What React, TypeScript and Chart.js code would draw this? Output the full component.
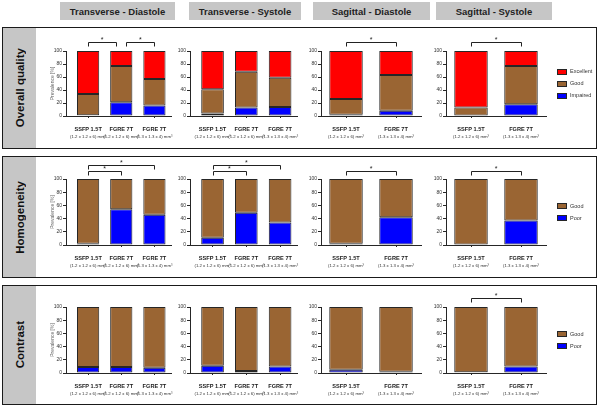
import React, { useEffect, useRef } from "react";
import { Chart, registerables } from "chart.js";

Chart.register(...registerables);

// ---------------- data ----------------
const COLUMN_TITLES = ["Transverse - Diastole", "Transverse - Systole", "Sagittal - Diastole", "Sagittal - Systole"];
const ROW_TITLES = ["Overall quality", "Homogeneity", "Contrast"];

const TRANSVERSE_NAMES = ["SSFP 1.5T", "FGRE 7T", "FGRE 7T"];
const TRANSVERSE_SUBS = ["(1.2 x 1.2 x 6) mm³", "(1.2 x 1.2 x 6) mm³", "(1.3 x 1.3 x 4) mm³"];
const SAGITTAL_NAMES = ["SSFP 1.5T", "FGRE 7T"];
const SAGITTAL_SUBS = ["(1.2 x 1.2 x 6) mm³", "(1.3 x 1.3 x 4) mm³"];

const Y_TICKS = [0, 20, 40, 60, 80, 100];
const Y_TITLE = "Prevalence [%]";

// Overall quality (per column: TD, TS, SD, SS)
const QUALITY_IMPAIRED = [[1, 21, 16], [4, 13, 14], [2, 8], [0, 18]];
const QUALITY_GOOD = [[33, 56, 41], [37, 55, 45], [24, 55], [13, 59]];
const QUALITY_EXCELLENT = [[66, 23, 43], [59, 32, 41], [74, 37], [87, 23]];
// significance brackets: [from, to, level]
const QUALITY_SIG = [[[0, 1, 0], [1, 2, 0]], [], [[0, 1, 0]], [[0, 1, 0]]];

// Homogeneity
const HOMOGENEITY_POOR = [[2, 54, 46], [11, 49, 34], [2, 42], [0, 37]];
const HOMOGENEITY_GOOD = [[98, 46, 54], [89, 51, 66], [98, 58], [100, 63]];
const HOMOGENEITY_SIG = [[[0, 1, 0], [0, 2, 1]], [[0, 1, 0], [0, 2, 1]], [[0, 1, 0]], [[0, 1, 0]]];

// Contrast
const CONTRAST_POOR = [[9, 9, 8], [11, 3, 10], [5, 2], [1, 10]];
const CONTRAST_GOOD = [[91, 91, 92], [89, 97, 90], [95, 98], [99, 90]];
const CONTRAST_SIG = [[], [], [], [[0, 1, 0]]];

// ---------------- style ----------------
const FONT = "'Liberation Sans', Arial, sans-serif";
const NARROW = "'Liberation Sans Narrow', 'Liberation Sans', Arial, sans-serif";
const RED = "#ff0000";
const BROWN = "#9a6533";
const BLUE = "#0000ff";
const EDGE = "#262626";
const GRAY_BOX = "#c6c6c6";

type Series = { label: string; color: string; values: number[] };

const ROW_GEOM = [
  { boxTop: 27, boxBottom: 149, plotTop: 51, plotBottom: 116, bracket: [9, 15] },
  { boxTop: 156, boxBottom: 278, plotTop: 179, plotBottom: 245, bracket: [8, 14] },
  { boxTop: 285, boxBottom: 405, plotTop: 307, plotBottom: 373, bracket: [9, 15] },
];
const COL_GEOM = [
  { left: 66, right: 171 },
  { left: 190, right: 297 },
  { left: 321, right: 421 },
  { left: 446, right: 546 },
];
const HEADER_GEOM = [
  { left: 60, width: 115 },
  { left: 189, width: 112 },
  { left: 313, width: 117 },
  { left: 436, width: 116 },
];

const Y_W = 20;
const TOP_PAD = 30;
const X_H = 26;

type PanelProps = {
  col: number;
  row: number;
  names: string[];
  subs: string[];
  series: Series[];
  sig: number[][];
  showTitle: boolean;
  showLegend: boolean;
};

function Panel(p: PanelProps) {
  const ref = useRef<HTMLCanvasElement>(null);
  const cg = COL_GEOM[p.col];
  const rg = ROW_GEOM[p.row];
  const rightPad = p.showLegend ? 50 : 14;
  const w = Math.round(cg.right - cg.left + Y_W + rightPad);
  const h = Math.round(rg.plotBottom - rg.plotTop + TOP_PAD + X_H);
  const left = cg.left - Y_W;
  const top = rg.plotTop - TOP_PAD;

  useEffect(() => {
    const canvas = ref.current!;
    const n = p.names.length;
    const xMin = n === 3 ? -0.667 : -0.5;
    const xMax = n === 3 ? 2.5 : 1.5;

    const extras = {
      id: "extras",
      afterDraw(chart: any) {
        const ctx = chart.ctx as CanvasRenderingContext2D;
        const xs = chart.scales.x;
        const area = chart.chartArea;
        ctx.save();
        // sub labels
        ctx.fillStyle = "#333";
        ctx.font = `4.3px ${FONT}`;
        ctx.textAlign = "center";
        ctx.textBaseline = "middle";
        p.subs.forEach((s, i) => {
          ctx.fillText(s, xs.getPixelForValue(i), area.bottom + 20.5);
        });
        // significance brackets
        ctx.strokeStyle = "#222";
        ctx.lineWidth = 1;
        ctx.fillStyle = "#222";
        ctx.font = `7px ${FONT}`;
        ctx.textBaseline = "alphabetic";
        p.sig.forEach(([a, b, lvl]) => {
          let x1 = xs.getPixelForValue(a);
          let x2 = xs.getPixelForValue(b);
          p.sig.forEach(([c, d, l2]) => {
            if (l2 === lvl && !(c === a && d === b)) {
              if (d === a) x1 += 5;
              if (c === b) x2 -= 5;
            }
          });
          const y = Math.round(area.top - rg.bracket[lvl]) + 0.5;
          ctx.beginPath();
          ctx.moveTo(Math.round(x1) + 0.5, y + 4);
          ctx.lineTo(Math.round(x1) + 0.5, y);
          ctx.lineTo(Math.round(x2) + 0.5, y);
          ctx.lineTo(Math.round(x2) + 0.5, y + 4);
          ctx.stroke();
          ctx.fillText("*", (x1 + x2) / 2, y - 0.5);
        });
        // legend
        if (p.showLegend) {
          const entries = [...p.series].reverse();
          const yc = (area.top + area.bottom) / 2;
          const gap = 12;
          const x0 = Math.round(area.right + 11);
          ctx.font = `5.5px ${FONT}`;
          ctx.textAlign = "left";
          ctx.textBaseline = "middle";
          entries.forEach((s, i) => {
            const y = yc + (i - (entries.length - 1) / 2) * gap;
            ctx.fillStyle = s.color;
            ctx.fillRect(x0, Math.round(y - 3), 10, 6);
            ctx.strokeStyle = EDGE;
            ctx.strokeRect(x0 + 0.5, Math.round(y - 3) + 0.5, 9, 5);
            ctx.fillStyle = "#333";
            ctx.fillText(s.label, x0 + 13, y);
          });
        }
        ctx.restore();
      },
    };

    const chart = new Chart(canvas, {
      type: "bar",
      data: {
        datasets: p.series.map((s) => ({
          label: s.label,
          data: s.values.map((v, i) => ({ x: i, y: v })),
          backgroundColor: s.color,
          borderColor: EDGE,
          borderWidth: 1,
          borderSkipped: false,
          barPercentage: 0.67,
          categoryPercentage: 1,
        })),
      } as any,
      options: {
        animation: false,
        responsive: false,
        maintainAspectRatio: false,
        layout: { padding: { top: TOP_PAD, right: rightPad, left: 0, bottom: 0 } },
        plugins: { legend: { display: false }, tooltip: { enabled: false } },
        scales: {
          x: {
            type: "linear",
            min: xMin,
            max: xMax,
            offset: false,
            stacked: true,
            afterBuildTicks: (axis: any) => {
              axis.ticks = p.names.map((_, i) => ({ value: i }));
            },
            afterFit: (axis: any) => {
              axis.height = X_H;
            },
            grid: { drawOnChartArea: false, drawTicks: true, tickLength: 2, color: EDGE, offset: false },
            border: { display: true, color: EDGE, width: 1 },
            ticks: {
              autoSkip: false,
              maxRotation: 0,
              padding: 8,
              color: "#1a1a1a",
              font: { family: NARROW, size: 5.6, weight: "bold" },
              callback: (v: any) => p.names[v as number] ?? "",
            },
          },
          y: {
            min: 0,
            max: 100,
            stacked: true,
            afterBuildTicks: (axis: any) => {
              axis.ticks = Y_TICKS.map((v) => ({ value: v }));
            },
            afterFit: (axis: any) => {
              axis.width = Y_W;
            },
            grid: { drawOnChartArea: false, drawTicks: true, tickLength: 3, color: EDGE },
            border: { display: true, color: EDGE, width: 1 },
            ticks: { padding: 1, color: "#333", font: { family: FONT, size: 5 } },
            title: {
              display: p.showTitle,
              text: Y_TITLE,
              color: "#666",
              font: { family: FONT, size: 5 },
              padding: { top: 4, bottom: 0 },
            },
          },
        },
      } as any,
      plugins: [extras],
    });
    return () => chart.destroy();
  }, []);

  return (
    <canvas
      ref={ref}
      width={w}
      height={h}
      style={{ position: "absolute", left, top, width: w, height: h, zIndex: 2 }}
    />
  );
}

export default function App() {
  const rows = [
    {
      series: (c: number): Series[] => [
        { label: "Impaired", color: BLUE, values: QUALITY_IMPAIRED[c] },
        { label: "Good", color: BROWN, values: QUALITY_GOOD[c] },
        { label: "Excellent", color: RED, values: QUALITY_EXCELLENT[c] },
      ],
      sig: QUALITY_SIG,
    },
    {
      series: (c: number): Series[] => [
        { label: "Poor", color: BLUE, values: HOMOGENEITY_POOR[c] },
        { label: "Good", color: BROWN, values: HOMOGENEITY_GOOD[c] },
      ],
      sig: HOMOGENEITY_SIG,
    },
    {
      series: (c: number): Series[] => [
        { label: "Poor", color: BLUE, values: CONTRAST_POOR[c] },
        { label: "Good", color: BROWN, values: CONTRAST_GOOD[c] },
      ],
      sig: CONTRAST_SIG,
    },
  ];

  return (
    <div
      style={{
        position: "fixed",
        left: 0,
        top: 0,
        width: 600,
        height: 407,
        background: "#fff",
        overflow: "hidden",
        fontFamily: FONT,
      }}
    >
      {COLUMN_TITLES.map((t, i) => (
        <div
          key={t}
          style={{
            position: "absolute",
            left: HEADER_GEOM[i].left,
            top: 2,
            width: HEADER_GEOM[i].width,
            height: 18,
            background: GRAY_BOX,
            display: "flex",
            alignItems: "center",
            justifyContent: "center",
            fontWeight: "bold",
            fontSize: 9.5,
            color: "#222",
          }}
        >
          {t}
        </div>
      ))}
      {ROW_TITLES.map((t, r) => (
        <div
          key={t}
          style={{
            position: "absolute",
            left: 2,
            top: ROW_GEOM[r].boxTop,
            width: 595,
            height: ROW_GEOM[r].boxBottom - ROW_GEOM[r].boxTop,
            border: "1.5px solid #1a1a1a",
            boxSizing: "border-box",
          }}
        >
          <div
            style={{
              position: "absolute",
              left: 0,
              top: 0,
              bottom: 0,
              width: 33,
              background: GRAY_BOX,
              display: "flex",
              alignItems: "center",
              justifyContent: "center",
            }}
          >
            <span
              style={{
                writingMode: "vertical-rl",
                transform: "rotate(180deg)",
                fontWeight: "bold",
                fontSize: 11.5,
                color: "#111",
                whiteSpace: "nowrap",
              }}
            >
              {t}
            </span>
          </div>
        </div>
      ))}
      {rows.map((row, r) =>
        COL_GEOM.map((_, c) => (
          <Panel
            key={`${r}-${c}`}
            row={r}
            col={c}
            names={c < 2 ? TRANSVERSE_NAMES : SAGITTAL_NAMES}
            subs={c < 2 ? TRANSVERSE_SUBS : SAGITTAL_SUBS}
            series={row.series(c)}
            sig={row.sig[c]}
            showTitle={c === 0}
            showLegend={c === 3}
          />
        ))
      )}
    </div>
  );
}
